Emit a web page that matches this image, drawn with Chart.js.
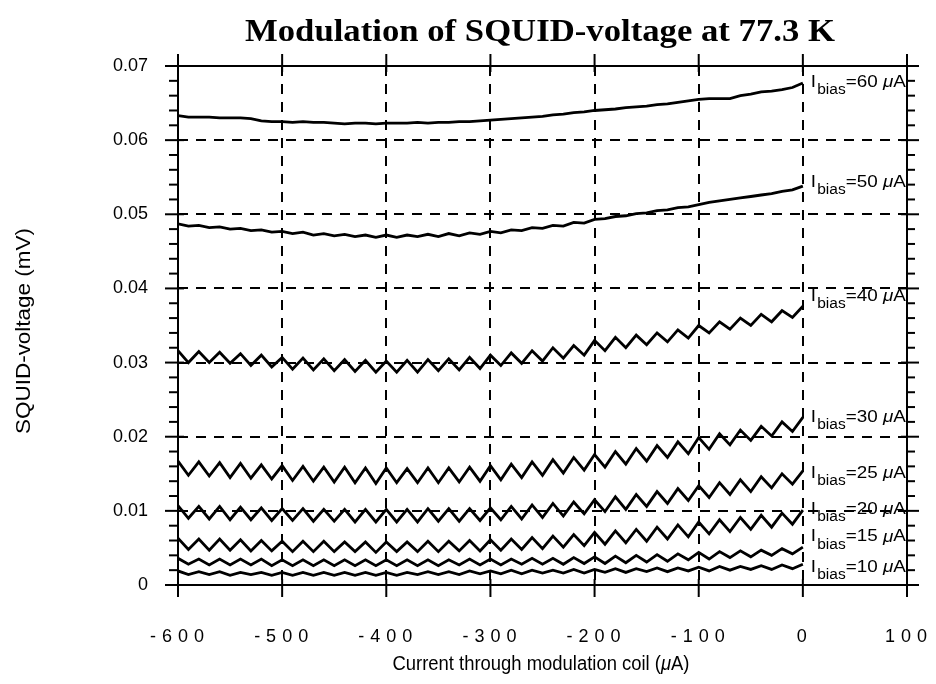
<!DOCTYPE html>
<html>
<head>
<meta charset="utf-8">
<script src="https://cdn.jsdelivr.net/npm/chart.js@4.4.0/dist/chart.umd.min.js"></script>
<style>
  html, body { margin: 0; padding: 0; background: #fff; }
  #wrap { width: 936px; height: 684px; }
</style>
</head>
<body>
<div id="wrap"><canvas id="squidChart" width="936" height="684"></canvas></div>
<script>
// Modulation current (uA), one sample every 10 uA
const currents = [
  -600, -590, -580, -570, -560, -550, -540, -530, -520, -510,
  -500, -490, -480, -470, -460, -450, -440, -430, -420, -410,
  -400, -390, -380, -370, -360, -350, -340, -330, -320, -310,
  -300, -290, -280, -270, -260, -250, -240, -230, -220, -210,
  -200, -190, -180, -170, -160, -150, -140, -130, -120, -110,
  -100, -90, -80, -70, -60, -50, -40, -30, -20, -10,
  0
];

// SQUID voltage (mV) for each bias current
const v60 = [
  0.0633, 0.0631, 0.0631, 0.0631, 0.0630, 0.0630, 0.0630, 0.0629, 0.0626, 0.0625,
  0.0625, 0.0624, 0.0625, 0.0624, 0.0624, 0.0623, 0.0622, 0.0623, 0.0623, 0.0622,
  0.0623, 0.0623, 0.0623, 0.0624, 0.0623, 0.0624, 0.0624, 0.0625, 0.0625, 0.0626,
  0.0627, 0.0628, 0.0629, 0.0630, 0.0631, 0.0632, 0.0634, 0.0635, 0.0637, 0.0638,
  0.0640, 0.0641, 0.0642, 0.0644, 0.0645, 0.0646, 0.0648, 0.0649, 0.0651, 0.0653,
  0.0655, 0.0656, 0.0656, 0.0656, 0.0660, 0.0662, 0.0665, 0.0666, 0.0668, 0.0671,
  0.0677
];
const v50 = [
  0.0487, 0.0484, 0.0485, 0.0482, 0.0483, 0.0480, 0.0481, 0.0478, 0.0479, 0.0476,
  0.0477, 0.0474, 0.0476, 0.0472, 0.0474, 0.0471, 0.0473, 0.0470, 0.0472, 0.0469,
  0.0472, 0.0469, 0.0472, 0.0470, 0.0473, 0.0470, 0.0474, 0.0471, 0.0475, 0.0473,
  0.0477, 0.0475, 0.0479, 0.0478, 0.0482, 0.0481, 0.0485, 0.0484, 0.0489, 0.0488,
  0.0493, 0.0494, 0.0497, 0.0498, 0.0501, 0.0502, 0.0505, 0.0506, 0.0509, 0.0510,
  0.0513, 0.0516, 0.0518, 0.0520, 0.0522, 0.0524, 0.0526, 0.0528, 0.0531, 0.0533,
  0.0538
];
const v40 = [
  0.0316, 0.0300, 0.0315, 0.0300, 0.0314, 0.0299, 0.0312, 0.0296, 0.0310, 0.0294,
  0.0307, 0.0291, 0.0306, 0.0290, 0.0305, 0.0289, 0.0304, 0.0288, 0.0303, 0.0287,
  0.0302, 0.0287, 0.0303, 0.0287, 0.0304, 0.0289, 0.0305, 0.0290, 0.0307, 0.0292,
  0.0310, 0.0296, 0.0313, 0.0299, 0.0316, 0.0302, 0.0320, 0.0306, 0.0323, 0.0310,
  0.0330, 0.0316, 0.0334, 0.0320, 0.0337, 0.0324, 0.0340, 0.0328, 0.0344, 0.0333,
  0.0350, 0.0340, 0.0355, 0.0345, 0.0360, 0.0350, 0.0365, 0.0355, 0.0370, 0.0361,
  0.0376
];
const v30 = [
  0.0167, 0.0148, 0.0166, 0.0147, 0.0165, 0.0145, 0.0164, 0.0144, 0.0162, 0.0143,
  0.0161, 0.0141, 0.0160, 0.0140, 0.0159, 0.0139, 0.0159, 0.0138, 0.0158, 0.0137,
  0.0158, 0.0138, 0.0157, 0.0138, 0.0158, 0.0138, 0.0158, 0.0139, 0.0159, 0.0140,
  0.0161, 0.0142, 0.0163, 0.0145, 0.0166, 0.0148, 0.0169, 0.0151, 0.0172, 0.0155,
  0.0176, 0.0159, 0.0180, 0.0163, 0.0184, 0.0167, 0.0188, 0.0172, 0.0193, 0.0177,
  0.0199, 0.0183, 0.0204, 0.0189, 0.0209, 0.0195, 0.0214, 0.0201, 0.0220, 0.0207,
  0.0226
];
const v25 = [
  0.0107, 0.0090, 0.0106, 0.0089, 0.0106, 0.0088, 0.0105, 0.0088, 0.0104, 0.0087,
  0.0103, 0.0087, 0.0103, 0.0086, 0.0102, 0.0086, 0.0102, 0.0085, 0.0102, 0.0085,
  0.0102, 0.0085, 0.0102, 0.0085, 0.0103, 0.0086, 0.0103, 0.0086, 0.0103, 0.0087,
  0.0104, 0.0088, 0.0106, 0.0089, 0.0108, 0.0091, 0.0110, 0.0093, 0.0112, 0.0096,
  0.0115, 0.0099, 0.0119, 0.0102, 0.0122, 0.0106, 0.0126, 0.0110, 0.0130, 0.0114,
  0.0134, 0.0118, 0.0138, 0.0122, 0.0142, 0.0126, 0.0146, 0.0131, 0.0150, 0.0136,
  0.0154
];
const v20 = [
  0.0063, 0.0048, 0.0062, 0.0047, 0.0062, 0.0047, 0.0061, 0.0046, 0.0060, 0.0046,
  0.0059, 0.0045, 0.0059, 0.0045, 0.0059, 0.0045, 0.0058, 0.0045, 0.0058, 0.0044,
  0.0058, 0.0045, 0.0058, 0.0045, 0.0059, 0.0045, 0.0059, 0.0046, 0.0060, 0.0046,
  0.0061, 0.0047, 0.0062, 0.0048, 0.0064, 0.0049, 0.0066, 0.0051, 0.0068, 0.0053,
  0.0071, 0.0055, 0.0073, 0.0057, 0.0075, 0.0059, 0.0078, 0.0062, 0.0081, 0.0065,
  0.0085, 0.0069, 0.0088, 0.0072, 0.0091, 0.0075, 0.0094, 0.0078, 0.0097, 0.0082,
  0.0101
];
const v15 = [
  0.0036, 0.0028, 0.0035, 0.0027, 0.0035, 0.0027, 0.0035, 0.0027, 0.0035, 0.0026,
  0.0034, 0.0026, 0.0034, 0.0026, 0.0034, 0.0026, 0.0034, 0.0026, 0.0034, 0.0026,
  0.0034, 0.0026, 0.0034, 0.0026, 0.0034, 0.0026, 0.0034, 0.0027, 0.0035, 0.0027,
  0.0035, 0.0027, 0.0035, 0.0028, 0.0036, 0.0028, 0.0036, 0.0028, 0.0037, 0.0029,
  0.0038, 0.0029, 0.0039, 0.0030, 0.0040, 0.0031, 0.0041, 0.0032, 0.0042, 0.0034,
  0.0044, 0.0035, 0.0045, 0.0037, 0.0046, 0.0038, 0.0047, 0.0040, 0.0049, 0.0042,
  0.0051
];
const v10 = [
  0.0019, 0.0014, 0.0018, 0.0014, 0.0018, 0.0013, 0.0017, 0.0014, 0.0017, 0.0013,
  0.0017, 0.0013, 0.0017, 0.0013, 0.0017, 0.0013, 0.0017, 0.0013, 0.0017, 0.0013,
  0.0017, 0.0013, 0.0017, 0.0014, 0.0018, 0.0014, 0.0018, 0.0014, 0.0019, 0.0015,
  0.0019, 0.0015, 0.0020, 0.0015, 0.0020, 0.0016, 0.0020, 0.0016, 0.0021, 0.0016,
  0.0021, 0.0017, 0.0022, 0.0017, 0.0022, 0.0018, 0.0023, 0.0018, 0.0023, 0.0019,
  0.0024, 0.0019, 0.0025, 0.0020, 0.0025, 0.0021, 0.0026, 0.0021, 0.0027, 0.0022,
  0.0028
];

const biasValues = ['60', '50', '40', '30', '25', '20', '15', '10'];
const seriesList = [v60, v50, v40, v30, v25, v20, v15, v10];
// where each curve label sits (mV), next to the end of the curve
const labelLevels = [0.0678, 0.0543, 0.0389, 0.0226, 0.0151, 0.0102, 0.0065, 0.0024];

const xTicks = [-600, -500, -400, -300, -200, -100, 0, 100];

const SANS = '"Liberation Sans", Arial, Helvetica, sans-serif';
const SERIF = '"Liberation Serif", "Times New Roman", serif';

// draw a run of text pieces with different fonts, optionally squeezed/stretched to a width
function drawRuns(ctx, runs, x, y, align, targetWidth) {
  let total = 0;
  runs.forEach(r => {
    ctx.font = r.font;
    r.w = ctx.measureText(r.text).width;
    total += r.w + (r.gap || 0);
  });
  const sx = targetWidth ? targetWidth / total : 1;
  ctx.save();
  ctx.translate(x, y);
  ctx.scale(sx, 1);
  let cx = align === 'center' ? -total / 2 : 0;
  ctx.textAlign = 'left';
  ctx.textBaseline = 'middle';
  runs.forEach(r => {
    ctx.font = r.font;
    ctx.fillText(r.text, cx + (r.gap || 0), r.dy || 0);
    cx += r.w + (r.gap || 0);
  });
  ctx.restore();
}

const decorPlugin = {
  id: 'decor',
  afterDraw(chart) {
    const { ctx, chartArea: a, scales: { x, y } } = chart;
    ctx.save();
    ctx.strokeStyle = '#000';
    ctx.fillStyle = '#000';
    ctx.lineWidth = 2;
    ctx.setLineDash([]);

    const seg = (x1, y1, x2, y2) => {
      ctx.beginPath();
      ctx.moveTo(x1, y1);
      ctx.lineTo(x2, y2);
      ctx.stroke();
    };

    // frame
    ctx.strokeRect(a.left, a.top, a.right - a.left, a.bottom - a.top);

    // x ticks, bottom and top
    xTicks.forEach(v => {
      const px = x.getPixelForValue(v);
      seg(px, a.bottom - 6, px, a.bottom + 12);
      seg(px, a.top - 12, px, a.top + 6);
    });

    // y ticks, major and minor, left and right
    for (let i = 0; i <= 35; i++) {
      const py = y.getPixelForValue(i * 0.002);
      if (i % 5 === 0) {
        seg(a.left - 13, py, a.left + 6, py);
        seg(a.right - 6, py, a.right + 12, py);
      } else {
        seg(a.left - 9, py, a.left, py);
        seg(a.right, py, a.right + 8, py);
      }
    }

    // x tick labels (spaced out)
    ctx.font = '18px ' + SANS;
    ctx.textAlign = 'center';
    ctx.textBaseline = 'middle';
    ctx.letterSpacing = '6px';
    xTicks.forEach(v => {
      ctx.fillText(String(v), x.getPixelForValue(v) + 2, 637);
    });
    ctx.letterSpacing = '0px';

    // title
    drawRuns(ctx, [
      { text: 'Modulation of SQUID-voltage at 77.3 K', font: 'bold 31px ' + SERIF }
    ], 540, 33, 'center', 590);

    // y axis title
    ctx.save();
    ctx.translate(24, 331);
    ctx.rotate(-Math.PI / 2);
    drawRuns(ctx, [
      { text: 'SQUID-voltage (mV)', font: '20px ' + SANS }
    ], 0, 0, 'center', 206);
    ctx.restore();

    // x axis title
    drawRuns(ctx, [
      { text: 'Current through modulation coil (', font: '20px ' + SANS },
      { text: '\u03BC', font: 'italic 20px ' + SANS },
      { text: 'A)', font: '20px ' + SANS }
    ], 541, 664, 'center', 297);

    // curve labels
    const lx = x.getPixelForValue(0) + 8;
    biasValues.forEach((b, i) => {
      const py = y.getPixelForValue(labelLevels[i]);
      drawRuns(ctx, [
        { text: 'I', font: '17px ' + SANS },
        { text: 'bias', font: '14px ' + SANS, dy: 8, gap: 1 },
        { text: '=' + b + ' ', font: '17px ' + SANS },
        { text: '\u03BC', font: 'italic 17px ' + SANS },
        { text: 'A', font: '17px ' + SANS }
      ], lx, py, 'left', 95);
    });

    ctx.restore();
  }
};

const isEdge = (scale, v) => v === scale.min || v === scale.max;

new Chart(document.getElementById('squidChart'), {
  type: 'line',
  data: {
    datasets: seriesList.map((vals, i) => ({
      label: 'Ibias=' + biasValues[i] + ' \u03BCA',
      data: currents.map((c, k) => ({ x: c, y: vals[k] })),
      borderColor: '#000',
      borderWidth: 2.8,
      pointRadius: 0,
      tension: 0,
      fill: false
    }))
  },
  options: {
    responsive: false,
    animation: false,
    events: [],
    layout: { padding: { top: 66, right: 29, left: 0, bottom: 0 } },
    plugins: {
      legend: { display: false },
      tooltip: { enabled: false }
    },
    scales: {
      x: {
        type: 'linear',
        min: -600,
        max: 100,
        afterFit: s => { s.height = 99; },
        ticks: { display: false, stepSize: 100 },
        grid: {
          drawTicks: false,
          lineWidth: 2,
          color: c => (c.tick && isEdge(c.scale, c.tick.value)) ? 'rgba(0,0,0,0)' : '#000'
        },
        border: { display: false, dash: [10, 8] }
      },
      y: {
        min: 0,
        max: 0.07,
        afterFit: s => { s.width = 178; },
        ticks: {
          stepSize: 0.01,
          padding: 30,
          color: '#000',
          font: { family: SANS, size: 18 }
        },
        grid: {
          drawTicks: false,
          lineWidth: 2,
          color: c => (c.tick && isEdge(c.scale, c.tick.value)) ? 'rgba(0,0,0,0)' : '#000'
        },
        border: { display: false, dash: [10, 8] }
      }
    }
  },
  plugins: [decorPlugin]
});
</script>
</body>
</html>
